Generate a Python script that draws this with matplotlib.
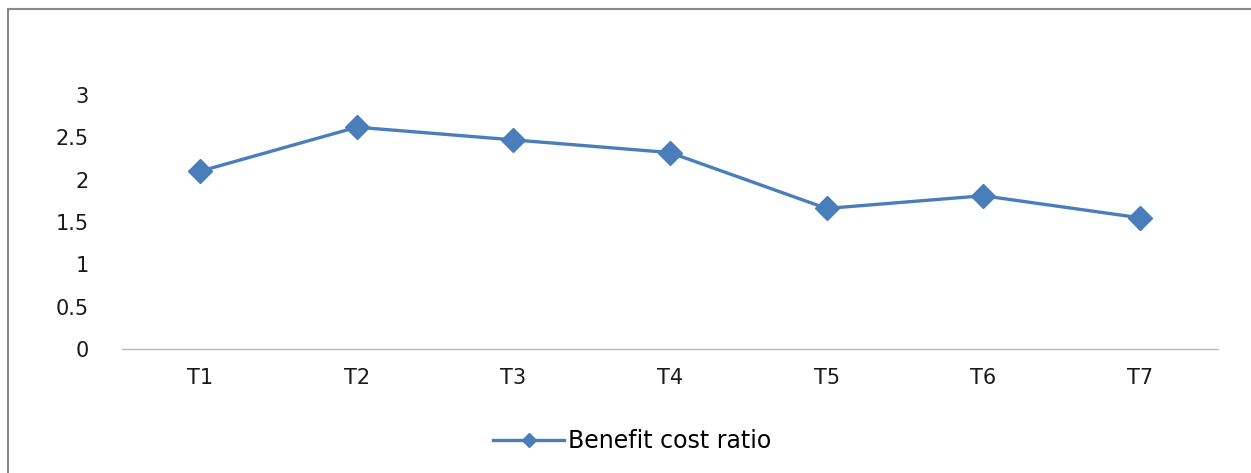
import matplotlib.pyplot as plt
from matplotlib.patches import Rectangle

# chart data
treatments = ['T1', 'T2', 'T3', 'T4', 'T5', 'T6', 'T7']
bc_ratio = [2.10, 2.62, 2.47, 2.32, 1.66, 1.81, 1.55]
yticks = [0, 0.5, 1, 1.5, 2, 2.5, 3]

plt.rcParams['font.family'] = ['DejaVu Sans']
line_color = '#4a7ebb'

fig = plt.figure(figsize=(12.51, 4.73), dpi=100)
W, H = 1251, 473
ax = fig.add_axes([122 / W, 1 - 349 / H, (1218 - 122) / W, (349 - 95) / H])

x = list(range(len(treatments)))
ax.plot(x, bc_ratio, color=line_color, linewidth=2.4, marker='D',
        markersize=12, label='Benefit cost ratio')

ax.set_xlim(-0.5, len(treatments) - 0.5)
ax.set_ylim(0, 3)
ax.set_xticks(x)
ax.set_xticklabels(treatments)
ax.set_yticks(yticks)
ax.set_yticklabels([f'{v:g}' for v in yticks])
ax.tick_params(axis='both', length=0, labelsize=15, colors='#1a1a1a')
ax.tick_params(axis='x', pad=14)
ax.tick_params(axis='y', pad=24)

for side in ['top', 'right', 'left']:
    ax.spines[side].set_visible(False)
ax.spines['bottom'].set_color('#bbbbbb')
ax.spines['bottom'].set_linewidth(1)

leg = fig.legend(loc='center', bbox_to_anchor=(632 / W, 1 - 441 / H),
                 frameon=False, fontsize=17, handlelength=3.0,
                 handletextpad=0.15, markerscale=0.6)

# outer chart border
fig.patches.append(Rectangle((8 / W, -0.1), 1.2, 1 - 9 / H + 0.1,
                             transform=fig.transFigure, fill=False,
                             edgecolor='#888888', linewidth=1.5))

plt.savefig('out.png', dpi=100)
